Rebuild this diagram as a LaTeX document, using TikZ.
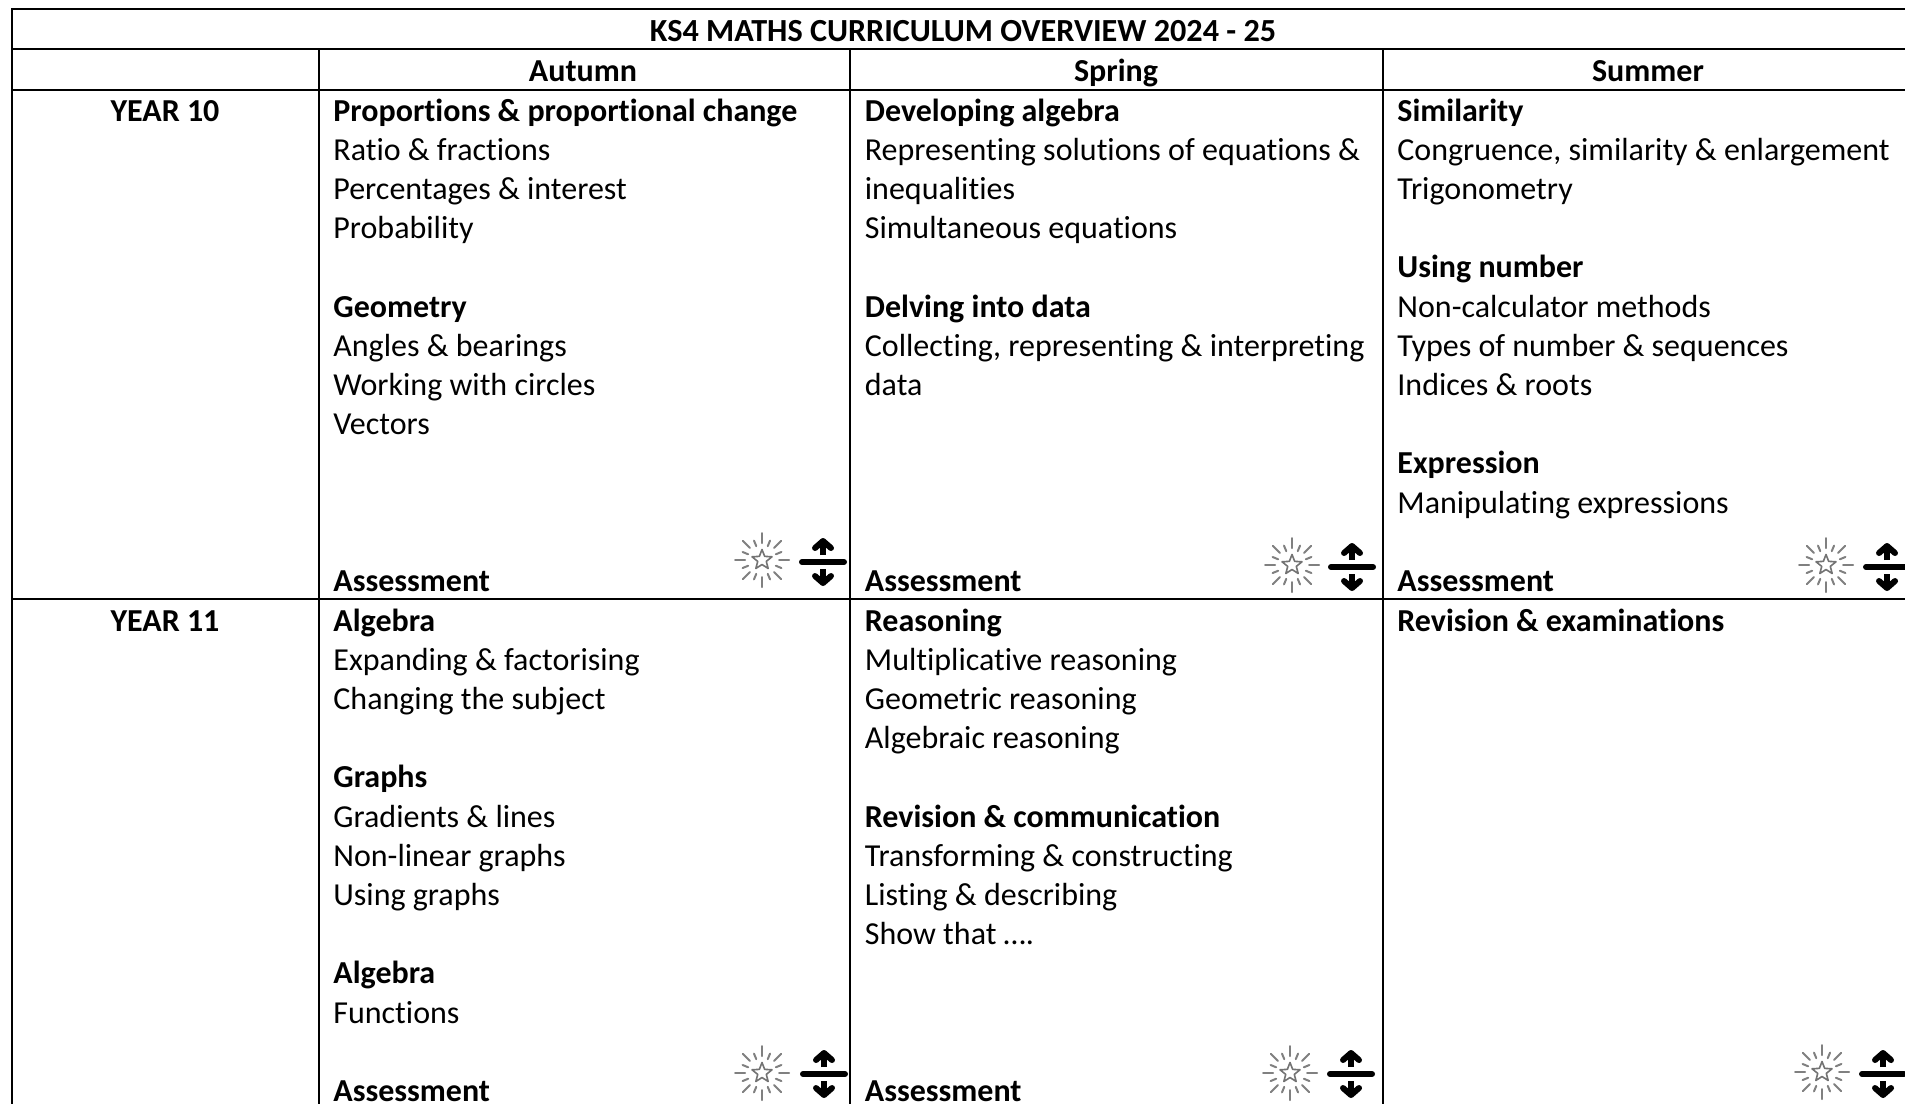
\documentclass[tikz,border=0pt]{standalone}
\usepackage{fontspec}
\setmainfont[Ligatures=NoCommon]{Carlito}
\tikzset{
  rule/.style={line width=1.4pt,black},
  cell/.style={anchor=base west,align=left,inner sep=0pt,font=\fontsize{16}{19.6}\selectfont},
  head/.style={anchor=base,inner sep=0pt,font=\fontsize{16}{19.6}\selectfont\bfseries},
  titlehead/.style={head,font=\fontsize{16.1}{19.6}\selectfont\bfseries},
  pics/sparkle/.style={code={
    \foreach \a in {0,45,...,315}{\draw[line width=1pt,black!50,line cap=round] (\a:17) -- (\a:27);}
    \foreach \a in {22.5,67.5,...,337.5}{\draw[line width=1pt,black!50,line cap=round] (\a:15) -- (\a:21);}
    \draw[line width=.8pt,black!55,line join=round] (-90:10.5) -- (-54:4.5) -- (-18:10.5) -- (18:4.5) -- (54:10.5) -- (90:4.5) -- (126:10.5) -- (162:4.5) -- (198:10.5) -- (234:4.5) -- cycle;
  }},
  pics/splitarrows/.style={code={
    \draw[line width=3pt,line cap=round,black] (-21,0) -- (21,0);
    \draw[line width=2.8pt,black] (0,-7) -- (0,-18);
    \draw[line width=3pt,black,line cap=round,line join=round] (-8,-14) -- (0,-21) -- (8,-14);
    \draw[line width=2.8pt,black] (0,7) -- (0,18);
    \draw[line width=3pt,black,line cap=round,line join=round] (-8,14) -- (0,21) -- (8,14);
  }}
}
\begin{document}
\begin{tikzpicture}[x=0.5pt,y=-0.5pt]
\useasboundingbox (0,0) rectangle (1905,1104);
\fill[white] (0,0) rectangle (1905,1104);
% grid
\draw[rule] (1905,9) -- (12,9) -- (12,1104);
\draw[rule] (12,49) -- (1905,49);
\draw[rule] (12,90) -- (1905,90);
\draw[rule] (12,599) -- (1905,599);
\draw[rule] (319,49) -- (319,1104);
\draw[rule] (850,49) -- (850,1104);
\draw[rule] (1383,49) -- (1383,1104);
% headers
\node[titlehead] (title) at (963,41) {KS4 MATHS CURRICULUM OVERVIEW 2024 - 25};
\node[head] (autumn) at (583,81) {Autumn};
\node[head] (spring) at (1116,81) {Spring};
\node[head] (summer) at (1648,81) {Summer};
\node[head] (y10) at (165,121) {YEAR 10};
\node[head] (y11) at (165,631) {YEAR 11};
% cells
\node[cell] (a10) at (333,591.5) {\textbf{Proportions \& proportional change}\\Ratio \& fractions\\Percentages \& interest\\Probability\\\mbox{}\\\textbf{Geometry}\\Angles \& bearings\\Working with circles\\Vectors\\\mbox{}\\\mbox{}\\\mbox{}\\\textbf{Assessment}};
\node[cell] (s10) at (864.5,591.5) {\textbf{Developing algebra}\\Representing solutions of equations \&\\inequalities\\Simultaneous equations\\\mbox{}\\\textbf{Delving into data}\\Collecting, representing \& interpreting\\data\\\mbox{}\\\mbox{}\\\mbox{}\\\mbox{}\\\textbf{Assessment}};
\node[cell] (u10) at (1397,591.5) {\textbf{Similarity}\\Congruence, similarity \& enlargement\\Trigonometry\\\mbox{}\\\textbf{Using number}\\Non-calculator methods\\Types of number \& sequences\\Indices \& roots\\\mbox{}\\\textbf{Expression}\\Manipulating expressions\\\mbox{}\\\textbf{Assessment}};
\node[cell] (a11) at (333,1101.5) {\textbf{Algebra}\\Expanding \& factorising\\Changing the subject\\\mbox{}\\\textbf{Graphs}\\Gradients \& lines\\Non-linear graphs\\Using graphs\\\mbox{}\\\textbf{Algebra}\\Functions\\\mbox{}\\\textbf{Assessment}};
\node[cell] (s11) at (864.5,1101.5) {\textbf{Reasoning}\\Multiplicative reasoning\\Geometric reasoning\\Algebraic reasoning\\\mbox{}\\\textbf{Revision \& communication}\\Transforming \& constructing\\Listing \& describing\\Show that ….\\\mbox{}\\\mbox{}\\\mbox{}\\\textbf{Assessment}};
\node[cell] (u11) at (1397,631) {\textbf{Revision \& examinations}};
% icons
\pic at (762,560) {sparkle};   \pic at (823,562) {splitarrows};
\pic at (1292,565) {sparkle};  \pic at (1352,567) {splitarrows};
\pic at (1826,565) {sparkle};  \pic at (1887,567) {splitarrows};
\pic at (762,1073) {sparkle};  \pic at (824,1074) {splitarrows};
\pic at (1290,1073) {sparkle}; \pic at (1351,1074) {splitarrows};
\pic at (1822,1072) {sparkle}; \pic at (1883,1074) {splitarrows};
\end{tikzpicture}
\end{document}
